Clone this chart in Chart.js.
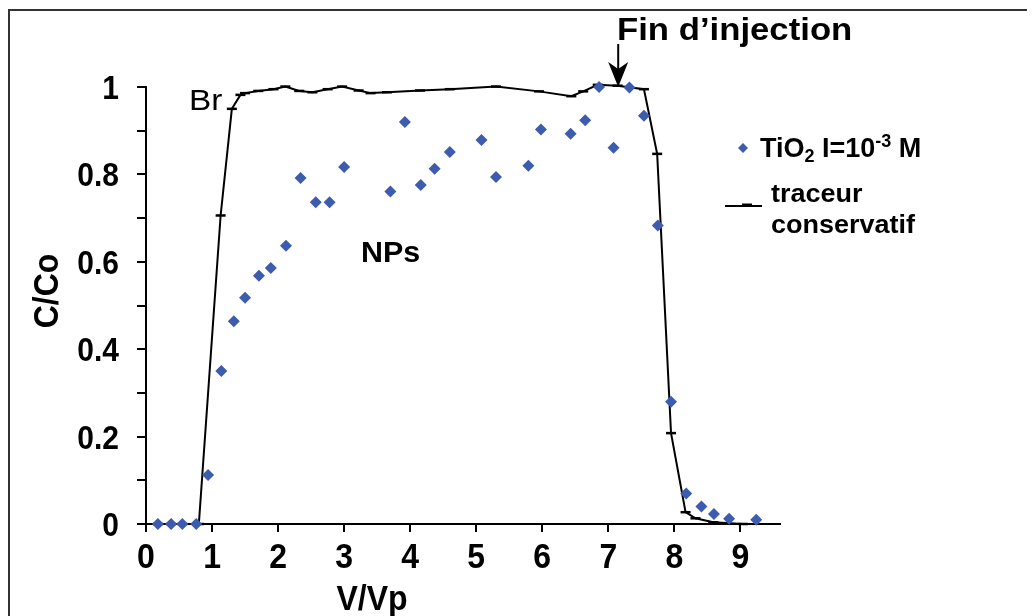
<!DOCTYPE html>
<html>
<head>
<meta charset="utf-8">
<script src="https://cdn.jsdelivr.net/npm/chart.js@4.4.1/dist/chart.umd.min.js"></script>
<style>
  html, body { margin: 0; padding: 0; background: #fff; }
  #wrap { width: 1036px; height: 616px; position: relative; }
  canvas { display: block; }
</style>
</head>
<body>
<div id="wrap"><canvas id="chart" width="1036" height="616"></canvas></div>
<script>
// NPs (TiO2, I = 1e-3 M)
const npX = [0.18, 0.38, 0.55, 0.76, 0.94, 1.14, 1.33, 1.50, 1.71, 1.89, 2.12, 2.34, 2.57, 2.78, 3.00,
  3.70, 3.92, 4.16, 4.37, 4.60, 5.08, 5.30, 5.79, 5.98, 6.43, 6.65, 6.86, 7.08, 7.32, 7.54, 7.75,
  7.95, 8.18, 8.41, 8.60, 8.83, 9.24];
const npY = [0, 0, 0, 0, 0.112, 0.350, 0.464, 0.518, 0.568, 0.586, 0.637, 0.792, 0.736, 0.736, 0.817,
  0.761, 0.920, 0.776, 0.813, 0.851, 0.879, 0.794, 0.820, 0.903, 0.893, 0.924, 1.0, 0.861, 0.999, 0.934, 0.683,
  0.280, 0.070, 0.040, 0.023, 0.012, 0.010];

// Br (traceur conservatif)
const brX = [0.18, 0.38, 0.55, 0.80, 1.13, 1.30, 1.43, 1.50, 1.70, 1.93, 2.11, 2.32, 2.52, 2.75, 2.97,
  3.22, 3.40, 3.65, 4.15, 4.60, 5.30, 5.95, 6.44, 6.62, 6.84, 7.14, 7.54, 7.74, 7.95, 8.17, 8.32, 8.59, 9.04];
const brY = [0, 0, 0, 0, 0.706, 0.950, 0.982, 0.986, 0.991, 0.995, 1.001, 0.991, 0.988, 0.995, 1.001,
  0.992, 0.986, 0.988, 0.992, 0.995, 1.001, 0.990, 0.979, 0.990, 1.005, 1.003, 0.995, 0.847, 0.208, 0.027, 0.013, 0.004, 0];

const xTicks = [0, 1, 2, 3, 4, 5, 6, 7, 8, 9];
const yTicks = [0, 0.1, 0.2, 0.3, 0.4, 0.5, 0.6, 0.7, 0.8, 0.9, 1];
const yTickLabels = ['0', '0.2', '0.4', '0.6', '0.8', '1'];
const yLabelValues = [0, 0.2, 0.4, 0.6, 0.8, 1];
const injectionEnd = 7.15;

const blue = '#3d5cb0';
const FONT = '"Liberation Sans", Arial, sans-serif';

const toPoints = (xs, ys) => xs.map((x, i) => ({x: x, y: ys[i]}));

// text helper, sx/sy stretch the glyphs a bit like the original picture
function drawText(ctx, s, x, y, size, opt) {
    opt = opt || {};
    ctx.save();
    ctx.translate(x, y);
    if (opt.rotate) ctx.rotate(opt.rotate);
    ctx.scale(opt.sx || 1, opt.sy || 1);
    ctx.font = (opt.weight || 'bold') + ' ' + size + 'px ' + FONT;
    ctx.fillStyle = '#000';
    ctx.textAlign = opt.align || 'left';
    ctx.textBaseline = opt.baseline || 'alphabetic';
    ctx.fillText(s, 0, 0);
    const w = ctx.measureText(s).width * (opt.sx || 1);
    ctx.restore();
    return w;
}

const decorations = {
    id: 'decorations',
    beforeDraw(chart) {
        const ctx = chart.ctx;
        ctx.save();
        ctx.fillStyle = '#fff';
        ctx.fillRect(0, 0, chart.width, chart.height);
        // frame
        ctx.strokeStyle = '#333';
        ctx.lineWidth = 2;
        ctx.beginPath();
        ctx.moveTo(9, 616);
        ctx.lineTo(9, 10);
        ctx.lineTo(1027, 10);
        ctx.stroke();
        ctx.restore();
    },
    afterDraw(chart) {
        const ctx = chart.ctx;
        const xs = chart.scales.x;
        const ys = chart.scales.y;

        // tick labels
        xTicks.forEach(v => {
            drawText(ctx, String(v), xs.getPixelForValue(v), 568, 32, {align: 'center', sy: 1.1});
        });
        yLabelValues.forEach((v, i) => {
            drawText(ctx, yTickLabels[i], 119, ys.getPixelForValue(v) + 12, 30, {align: 'right', sy: 1.1});
        });

        // axis titles
        drawText(ctx, 'V/Vp', 372, 610, 32, {align: 'center', sy: 1.1});
        drawText(ctx, 'C/Co', 58, 291, 32, {align: 'center', rotate: -Math.PI / 2, sy: 1.1});

        // annotations
        drawText(ctx, 'Br', 189, 110, 29, {weight: 'normal', sx: 1.15});
        drawText(ctx, 'NPs', 361, 262, 29, {sx: 1.05});
        drawText(ctx, 'Fin d\u2019injection', 617, 40, 32, {sx: 1.085});

        // arrow
        const ax = xs.getPixelForValue(injectionEnd);
        const tip = ys.getPixelForValue(1.0);
        ctx.save();
        ctx.strokeStyle = '#000';
        ctx.fillStyle = '#000';
        ctx.lineWidth = 2;
        ctx.beginPath();
        ctx.moveTo(ax, 44);
        ctx.lineTo(ax, tip - 16);
        ctx.stroke();
        ctx.beginPath();
        ctx.moveTo(ax, tip);
        ctx.lineTo(ax - 10, tip - 25);
        ctx.lineTo(ax, tip - 18);
        ctx.lineTo(ax + 10, tip - 25);
        ctx.closePath();
        ctx.fill();
        ctx.restore();

        // legend
        ctx.save();
        ctx.fillStyle = blue;
        ctx.beginPath();
        ctx.moveTo(743, 143);
        ctx.lineTo(748, 148);
        ctx.lineTo(743, 153);
        ctx.lineTo(738, 148);
        ctx.closePath();
        ctx.fill();
        ctx.strokeStyle = '#000';
        ctx.lineWidth = 2;
        ctx.beginPath();
        ctx.moveTo(725, 206);
        ctx.lineTo(762, 206);
        ctx.stroke();
        ctx.lineWidth = 3;
        ctx.beginPath();
        ctx.moveTo(742, 205);
        ctx.lineTo(752, 205);
        ctx.stroke();
        ctx.restore();

        let lx = 760;
        lx += drawText(ctx, 'TiO', lx, 157, 27);
        lx += drawText(ctx, '2', lx, 162, 18);
        lx += drawText(ctx, ' I=10', lx, 157, 27);
        lx += drawText(ctx, '-3', lx, 147, 18);
        drawText(ctx, ' M', lx, 157, 27);
        drawText(ctx, 'traceur', 771, 202, 25, {sx: 1.08});
        drawText(ctx, 'conservatif', 771, 233, 25, {sx: 1.08});
    }
};

const ctx = document.getElementById('chart').getContext('2d');
new Chart(ctx, {
    type: 'scatter',
    data: {
        datasets: [
            {
                label: 'TiO2 I=10-3 M',
                data: toPoints(npX, npY),
                pointStyle: 'rectRot',
                pointRadius: 6,
                backgroundColor: blue,
                borderColor: blue,
                borderWidth: 0,
                showLine: false,
                clip: false,
            },
            {
                label: 'traceur conservatif',
                data: toPoints(brX, brY),
                showLine: true,
                borderColor: '#000',
                borderWidth: 2,
                tension: 0,
                pointStyle: 'line',
                pointRadius: 5,
                pointBorderWidth: 2.5,
                pointBorderColor: '#000',
                pointBackgroundColor: '#000',
                clip: false,
            },
        ],
    },
    options: {
        responsive: false,
        animation: false,
        layout: {
            padding: {top: 87, right: 256, left: 0, bottom: 0},
        },
        scales: {
            x: {
                type: 'linear',
                min: 0,
                max: 9.6,
                afterBuildTicks: (scale) => { scale.ticks = xTicks.map(v => ({value: v})); },
                afterFit: (scale) => { scale.height = 92; },
                ticks: {display: false},
                grid: {
                    display: true,
                    drawOnChartArea: false,
                    drawTicks: true,
                    tickLength: 8,
                    color: '#000',
                    lineWidth: 2,
                },
                border: {display: true, color: '#000', width: 2},
            },
            y: {
                type: 'linear',
                min: 0,
                max: 1,
                afterBuildTicks: (scale) => { scale.ticks = yTicks.map(v => ({value: v})); },
                afterFit: (scale) => { scale.width = 146; },
                ticks: {display: false},
                grid: {
                    display: true,
                    drawOnChartArea: false,
                    drawTicks: true,
                    tickLength: 9,
                    color: '#000',
                    lineWidth: 2,
                },
                border: {display: true, color: '#000', width: 2},
            },
        },
        plugins: {
            legend: {display: false},
            tooltip: {enabled: false},
        },
    },
    plugins: [decorations],
});
</script>
</body>
</html>
